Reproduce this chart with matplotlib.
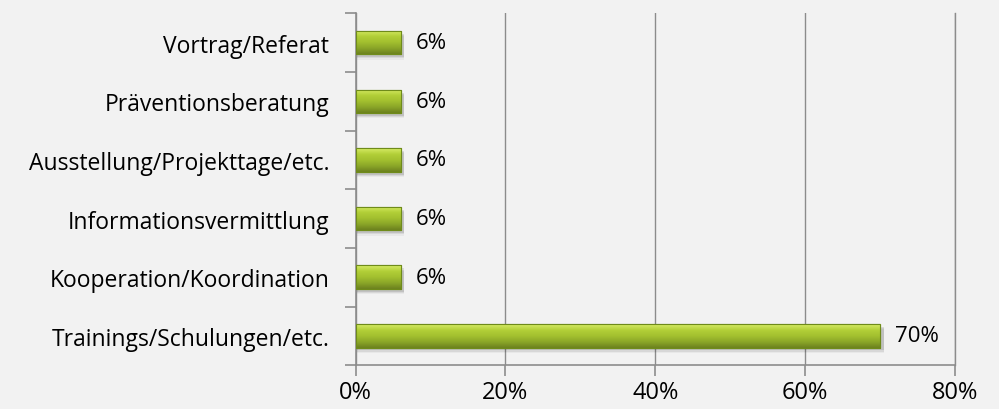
import numpy as np
import matplotlib.pyplot as plt
from matplotlib.colors import LinearSegmentedColormap

categories = [
    "Trainings/Schulungen/etc.",
    "Kooperation/Koordination",
    "Informationsvermittlung",
    "Ausstellung/Projekttage/etc.",
    "Präventionsberatung",
    "Vortrag/Referat",
]
values = [70, 6, 6, 6, 6, 6]
x_ticks = [0, 20, 40, 60, 80]
x_tick_labels = ["0%", "20%", "40%", "60%", "80%"]

BG = "#f2f2f2"
FONT = "Open Sans"
AXIS = "#8c8c8c"

fig = plt.figure(figsize=(9.99, 4.10), dpi=100, facecolor=BG)
ax = fig.add_axes([0.356, 0.107, 0.600, 0.858])
ax.set_facecolor(BG)

y = np.arange(len(categories))
bar_h = 0.40

# soft shadow under each bar
for yi, v in zip(y, values):
    for k, a in enumerate([0.10, 0.07, 0.04]):
        ax.barh(yi - 0.05 - 0.02 * k, v + 0.3, height=bar_h, left=0.2,
                color="#000000", alpha=a, linewidth=0, zorder=2)

bars = ax.barh(y, values, height=bar_h, color="#a2bf2f",
               edgecolor="#6f8b1a", linewidth=0.8, zorder=3)

# vertical gradient to give the bars a rounded, bevelled look
cmap = LinearSegmentedColormap.from_list(
    "bevel", ["#6c821f", "#8ba628", "#a3c02f", "#b2cf38", "#d6ec66"])
grad = np.linspace(0, 1, 64).reshape(-1, 1)
for b in bars:
    x0, y0 = b.get_x(), b.get_y()
    w, h = b.get_width(), b.get_height()
    im = ax.imshow(grad, cmap=cmap, aspect="auto", origin="lower",
                   extent=[x0, x0 + w, y0, y0 + h], zorder=4,
                   interpolation="bicubic")
    im.set_clip_path(b)
    ax.add_patch(plt.Rectangle((x0, y0), w, h, fill=False,
                               edgecolor="#6f8b1a", linewidth=0.8, zorder=5))

for yi, v in zip(y, values):
    ax.text(v + 2.0, yi, f"{v}%", va="center", ha="left",
            fontsize=16, family=FONT, color="#000000", zorder=6)

ax.set_xlim(0, 80)
ax.set_ylim(-0.5, len(categories) - 0.5)
ax.set_xticks(x_ticks)
ax.set_xticklabels(x_tick_labels, family=FONT, fontsize=17)
ax.set_yticks(y)
ax.set_yticklabels(categories, family=FONT, fontsize=16.5)
ax.set_yticks(np.arange(-0.5, len(categories)), minor=True)

ax.xaxis.grid(True, color=AXIS, linewidth=1.0, zorder=0)
ax.set_axisbelow(True)

ax.spines["top"].set_visible(False)
for s in ["left", "bottom", "right"]:
    ax.spines[s].set_color(AXIS)
    ax.spines[s].set_linewidth(1.2)
ax.spines["right"].set_linewidth(1.0)

ax.tick_params(axis="y", which="major", length=0, pad=19)
ax.tick_params(axis="y", which="minor", length=8, color=AXIS, width=1.2)
ax.tick_params(axis="x", which="major", length=8, color=AXIS, width=1.2, pad=3)

fig.savefig("out.png", dpi=100, facecolor=BG)
